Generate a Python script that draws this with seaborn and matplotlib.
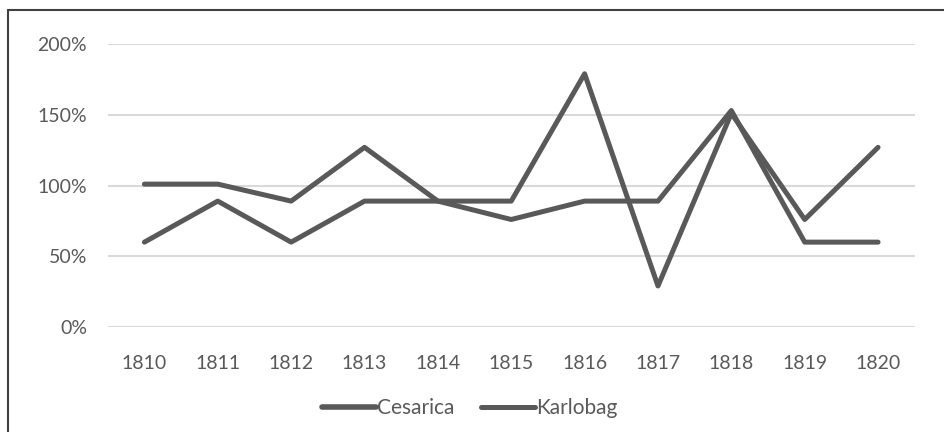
import pandas as pd
import seaborn as sns
import matplotlib.pyplot as plt
from matplotlib.lines import Line2D
from matplotlib.ticker import FuncFormatter

years = [1810, 1811, 1812, 1813, 1814, 1815, 1816, 1817, 1818, 1819, 1820]
cesarica = [101, 101, 89, 127, 89, 76, 89, 89, 153, 60, 60]
karlobag = [60, 89, 60, 89, 89, 89, 179, 29, 151, 76, 127]
series = ['Cesarica', 'Karlobag']

df = pd.DataFrame({'Year': years * 2,
                   'Value': cesarica + karlobag,
                   'Series': [series[0]] * len(years) + [series[1]] * len(years)})

sns.set_theme(style="white")
plt.rcParams['font.family'] = ['Lato', 'DejaVu Sans']

fig = plt.figure(figsize=(9.45, 4.32), dpi=100)
ax = fig.add_axes([0.114, 0.243, 0.854, 0.655])

grey = '#595959'
sns.lineplot(data=df, x='Year', y='Value', hue='Series', palette=[grey, grey],
             linewidth=3.6, ax=ax, legend=False)

ax.set_xlim(1809.5, 1820.5)
ax.set_ylim(0, 200)
ax.set_yticks([0, 50, 100, 150, 200])
ax.set_xticks(years)
ax.yaxis.set_major_formatter(FuncFormatter(lambda v, p: f'{int(v)}%'))
ax.grid(axis='y', color='#d9d9d9', linewidth=1.5)
ax.set_axisbelow(True)
for s in ax.spines.values():
    s.set_visible(False)
ax.tick_params(axis='both', length=0, labelsize=14, labelcolor=grey)
ax.tick_params(axis='x', pad=20)
ax.tick_params(axis='y', pad=15)
ax.set_xlabel('')
ax.set_ylabel('')

handles = [Line2D([], [], color=grey, linewidth=4), Line2D([], [], color=grey, linewidth=3.6)]
fig.legend(handles, series, loc='center', bbox_to_anchor=(0.497, 0.056), ncol=2,
           frameon=False, fontsize=15, handlelength=2.6, handletextpad=0.05,
           columnspacing=1.3, labelcolor=grey)

# chart frame (left and top edge visible)
fig.add_artist(Line2D([8 / 945, 8 / 945], [0, 1 - 10 / 432], color='#404040', linewidth=1.5))
fig.add_artist(Line2D([8 / 945, 1], [1 - 10 / 432, 1 - 10 / 432], color='#404040', linewidth=1.5))

fig.savefig('out.png', dpi=100)
